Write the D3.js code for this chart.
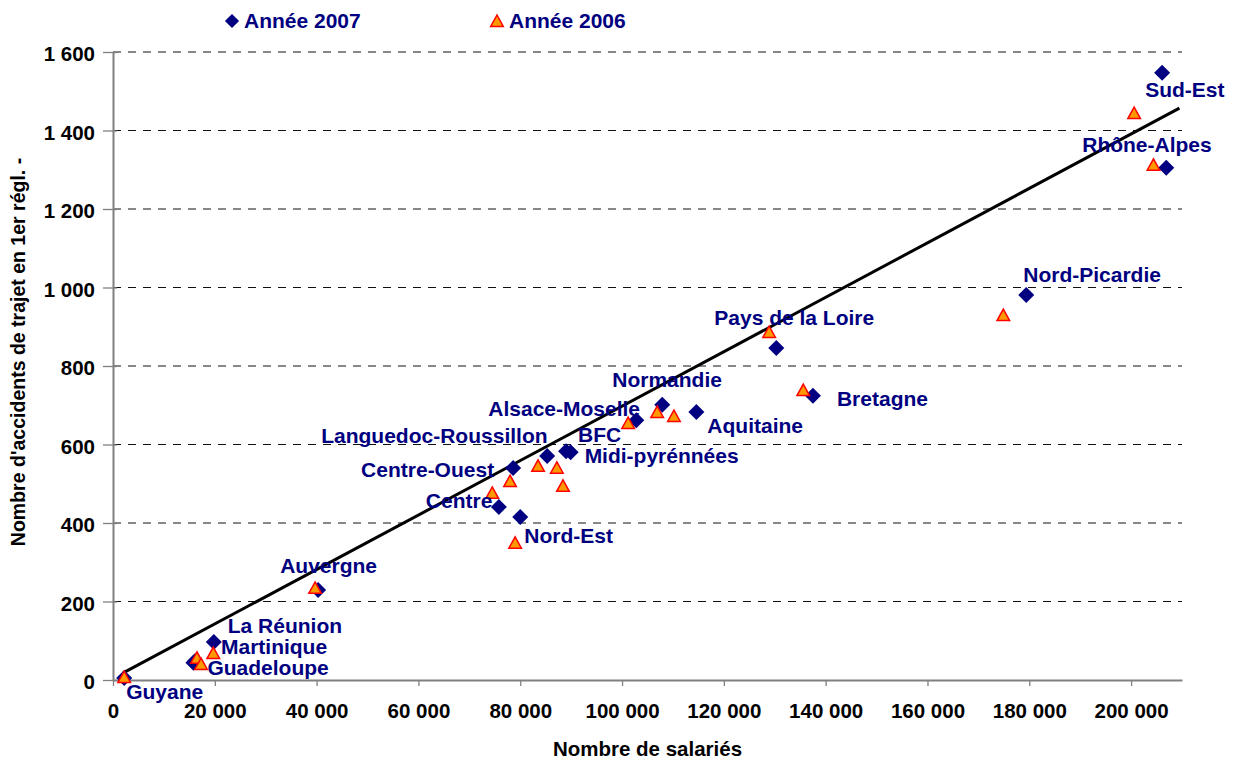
<!DOCTYPE html>
<html>
<head>
<meta charset="utf-8">
<script src="https://cdn.jsdelivr.net/npm/d3@7"></script>
<style>
  body { margin: 0; background: #fff; }
  svg { display: block; font-family: "Liberation Sans", Arial, sans-serif; }
</style>
</head>
<body>
<div id="canvas"></div>
<script>
// regions, in the order the labels are listed
const regions = ["Sud-Est", "Rhône-Alpes", "Nord-Picardie", "Pays de la Loire", "Bretagne",
  "Aquitaine", "Normandie", "Alsace-Moselle", "Languedoc-Roussillon", "BFC", "Midi-pyrénnées",
  "Centre-Ouest", "Centre", "Nord-Est", "Auvergne", "La Réunion", "Martinique", "Guadeloupe", "Guyane"];

// Année 2007
const salaries2007 = [206100, 206900, 179400, 130300, 137500, 114600, 107900, 102800, 85300, 89000, 89900,
  78600, 75800, 80000, 40300, 19800, 16100, 15800, 2200];
const accidents2007 = [1547, 1305, 981, 846, 724, 683, 701, 662, 571, 583, 580,
  540, 441, 415, 229, 97, 48, 44, 5];

// Année 2006
const salaries2006 = [200600, 204400, 174900, 128900, 135600, 110200, 106900, 101200, 83500, 87200, 88400,
  78000, 74500, 79000, 39700, 19700, 16500, 17300, 2200];
const accidents2006 = [1442, 1310, 927, 884, 736, 670, 680, 652, 543, 538, 492,
  504, 474, 347, 232, 66, 54, 38, 5];

// trend line end points
const trendX = [2000, 209500];
const trendY = [18, 1457];

const xTicks = [0, 20000, 40000, 60000, 80000, 100000, 120000, 140000, 160000, 180000, 200000];
const yTicks = [0, 200, 400, 600, 800, 1000, 1200, 1400, 1600];

// label offsets from the 2007 marker, in pixels
const labelOffsets = [[-17, 24], [-84, -16], [-3, -13], [-62, -23], [24, 10],
  [11, 21], [-50, -18], [-148, -4], [-226, -13], [12, -9], [14, 11],
  [-152, 9], [-73, 1], [4, 26], [-38, -17], [14, -9], [26, -7], [14, 12], [2, 21]];

const width = 1236;
const height = 762;
const margin = { top: 52, left: 113, bottom: 82, right: 54 };
const iwidth = width - margin.left - margin.right;
const iheight = height - margin.top - margin.bottom;

const navy = "#000080";
const fmt = v => d3.format(",")(v).replace(/,/g, " ");

const svg = d3.select("#canvas").append("svg")
  .attr("width", width)
  .attr("height", height);

const g = svg.append("g").attr("transform", `translate(${margin.left},${margin.top})`);

const x = d3.scaleLinear().domain([0, 210000]).range([0, iwidth]);
const y = d3.scaleLinear().domain([0, 1600]).range([iheight, 0]);

// dashed grid
g.append("g")
  .selectAll("line")
  .data(yTicks.filter(d => d > 0))
  .enter().append("line")
  .attr("x1", 0)
  .attr("x2", iwidth)
  .attr("y1", d => y(d))
  .attr("y2", d => y(d))
  .attr("stroke", "#111")
  .attr("stroke-dasharray", "8,7");

// axes
const yAxis = g.append("g")
  .call(d3.axisLeft(y).tickValues(yTicks).tickFormat(fmt).tickSize(10).tickPadding(8).tickSizeOuter(0));
yAxis.selectAll(".tick line").attr("x1", 4);

const xAxis = g.append("g")
  .attr("transform", `translate(0,${iheight})`)
  .call(d3.axisBottom(x).tickValues(xTicks).tickFormat(fmt).tickSize(6).tickPadding(17).tickSizeOuter(0));

[xAxis, yAxis].forEach(a => {
  a.select(".domain").attr("stroke", "#808080").attr("stroke-width", 2);
  a.selectAll(".tick line").attr("stroke", "#808080").attr("stroke-width", 1.3);
  a.selectAll(".tick text")
    .attr("fill", "#000")
    .style("font-size", "20.5px")
    .style("font-weight", "bold")
    .style("font-family", "Liberation Sans, Arial, sans-serif");
});
yAxis.selectAll(".tick text").attr("dy", "0.42em");

// trend line
g.append("line")
  .attr("x1", x(trendX[0]))
  .attr("y1", y(trendY[0]))
  .attr("x2", x(trendX[1]))
  .attr("y2", y(trendY[1]))
  .attr("stroke", "#000")
  .attr("stroke-width", 3);

const diamond = d3.symbol().type(d3.symbolSquare).size(128);
const triangle = "M0,-7L6.3,4.4L-6.3,4.4Z";

// 2007 markers
g.append("g")
  .selectAll("path")
  .data(regions)
  .enter().append("path")
  .attr("d", diamond)
  .attr("transform", (d, i) => `translate(${x(salaries2007[i])},${y(accidents2007[i])}) rotate(45)`)
  .attr("fill", navy);

// 2006 markers
g.append("g")
  .selectAll("path")
  .data(regions)
  .enter().append("path")
  .attr("d", triangle)
  .attr("transform", (d, i) => `translate(${x(salaries2006[i])},${y(accidents2006[i])})`)
  .attr("fill", "#FF9900")
  .attr("stroke", "#FF0000")
  .attr("stroke-width", 1.5)
  .attr("stroke-linejoin", "miter");

// region labels
g.append("g")
  .selectAll("text")
  .data(regions)
  .enter().append("text")
  .attr("x", (d, i) => x(salaries2007[i]) + labelOffsets[i][0])
  .attr("y", (d, i) => y(accidents2007[i]) + labelOffsets[i][1])
  .attr("fill", navy)
  .style("font-size", "21px")
  .style("font-weight", "bold")
  .text(d => d);

// axis titles
svg.append("text")
  .attr("x", margin.left + iwidth / 2)
  .attr("y", 756)
  .attr("text-anchor", "middle")
  .style("font-size", "20.5px")
  .style("font-weight", "bold")
  .text("Nombre de salariés");

svg.append("text")
  .attr("transform", `translate(25,${margin.top + iheight / 2 - 14}) rotate(-90)`)
  .attr("text-anchor", "middle")
  .style("font-size", "19.5px")
  .style("font-weight", "bold")
  .text("Nombre d'accidents de trajet en 1er régl. -");

// legend
const legend = svg.append("g");
legend.append("path")
  .attr("d", d3.symbol().type(d3.symbolSquare).size(100))
  .attr("transform", "translate(232,21) rotate(45)")
  .attr("fill", navy);
legend.append("text")
  .attr("x", 244)
  .attr("y", 28)
  .attr("fill", navy)
  .style("font-size", "21px")
  .style("font-weight", "bold")
  .text("Année 2007");
legend.append("path")
  .attr("d", triangle)
  .attr("transform", "translate(497,22)")
  .attr("fill", "#FF9900")
  .attr("stroke", "#FF0000")
  .attr("stroke-width", 1.5);
legend.append("text")
  .attr("x", 509)
  .attr("y", 28)
  .attr("fill", navy)
  .style("font-size", "21px")
  .style("font-weight", "bold")
  .text("Année 2006");
</script>
</body>
</html>
